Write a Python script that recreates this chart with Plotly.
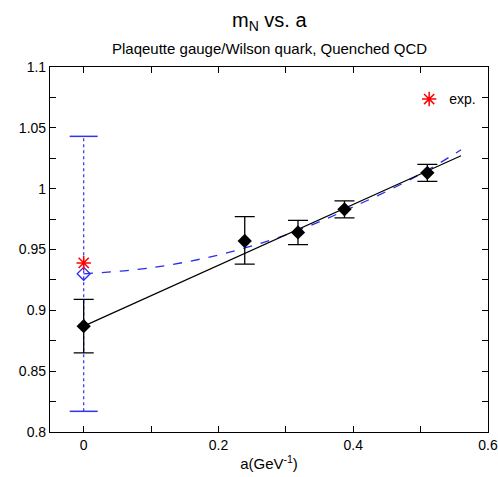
import plotly.graph_objects as go

# lattice data (black, filled diamonds)
a_data = [0.0, 0.239, 0.318, 0.387, 0.510]
mN_data = [0.887, 0.957, 0.964, 0.983, 1.013]
mN_err_hi = [0.909, 0.977, 0.974, 0.990, 1.020]
mN_err_lo = [0.865, 0.938, 0.954, 0.976, 1.006]

# linear fit line (black)
lin_a = [0.0, 0.56]
lin_m = [0.887, 1.027]

# quadratic fit curve (blue dashed)
quad_a = [0.0, 0.1, 0.2, 0.3, 0.4, 0.5, 0.56]
quad_m = [0.930, 0.935, 0.9455, 0.962, 0.985, 1.012, 1.032]

# quadratic extrapolation at a=0 (blue open diamond)
q0_a = [0.0]
q0_m = [0.930]
q0_hi = 1.043
q0_lo = 0.817

# experiment
exp_a = [0.0]
exp_m = [0.939]

font = "Liberation Sans, Arial, sans-serif"
fig = go.Figure()

# blue dotted error bar
fig.add_trace(go.Scatter(x=[q0_a[0], q0_a[0]], y=[q0_lo, q0_hi], mode="lines",
                         line=dict(color="#3333ee", width=1.2, dash="dot"),
                         showlegend=False, hoverinfo="skip"))
fig.add_trace(go.Scatter(x=[q0_a[0], q0_a[0]], y=[q0_lo, q0_hi], mode="markers",
                         marker=dict(symbol="line-ew", size=20, color="#3333ee",
                                     line=dict(color="#3333ee", width=1.5)),
                         showlegend=False, hoverinfo="skip"))

fig.add_trace(go.Scatter(x=quad_a, y=quad_m, mode="lines", line_shape="spline",
                         line=dict(color="#2b2bee", width=1.3, dash="dash"),
                         showlegend=False))
fig.add_trace(go.Scatter(x=lin_a, y=lin_m, mode="lines",
                         line=dict(color="black", width=1.2), showlegend=False))

fig.add_trace(go.Scatter(x=q0_a, y=q0_m, mode="markers",
                         marker=dict(symbol="diamond-open", size=10,
                                     color="#2b2bee", line=dict(width=1.3, color="#2b2bee")),
                         showlegend=False))

fig.add_trace(go.Scatter(
    x=a_data, y=mN_data, mode="markers",
    marker=dict(symbol="diamond", size=11, color="black"),
    error_y=dict(type="data", symmetric=False,
                 array=[h - m for h, m in zip(mN_err_hi, mN_data)],
                 arrayminus=[m - l for m, l in zip(mN_data, mN_err_lo)],
                 color="black", thickness=1.3, width=10),
    showlegend=False))

fig.add_trace(go.Scatter(x=exp_a, y=exp_m, mode="markers", name="exp.",
                         marker=dict(symbol="asterisk-open", size=12, color="red",
                                     line=dict(color="red", width=1.5))))

axis_common = dict(showline=True, linecolor="black", linewidth=1.2, mirror="allticks",
                   ticks="inside", ticklen=6, tickcolor="black", showgrid=False,
                   zeroline=False, automargin=False,
                   tickfont=dict(size=14, color="black", family=font))

fig.update_xaxes(range=[-0.05, 0.6], tick0=0, dtick=0.2,
                 minor=dict(ticks="inside", dtick=0.1, tick0=0, ticklen=6, tickcolor="black"),
                 title=dict(text="a(GeV<sup>-1</sup>)", font=dict(size=15, color="black", family=font),
                            standoff=6),
                 **axis_common)
fig.update_yaxes(range=[0.8, 1.1], tick0=0.8, dtick=0.05,
                 minor=dict(ticks="inside", dtick=0.025, tick0=0.8, ticklen=6, tickcolor="black"),
                 **axis_common)

plot_h = 477 - 67 - 45
fig.update_layout(
    width=498, height=477,
    margin=dict(l=50, r=10, t=67, b=45),
    plot_bgcolor="white", paper_bgcolor="white",
    font=dict(family=font, color="black"),
    showlegend=True,
    legend=dict(x=0.82, y=0.955, xanchor="left", yanchor="top",
                bgcolor="rgba(0,0,0,0)", font=dict(size=14, family=font),
                itemwidth=30, tracegroupgap=0),
    annotations=[
        dict(text="m<sub>N</sub> vs. a", x=0.5, y=1 + (67 - 21) / plot_h, yanchor="middle",
             xref="paper", yref="paper", showarrow=False, font=dict(size=20, family=font)),
        dict(text="Plaqeutte gauge/Wilson quark, Quenched QCD", x=0.5,
             y=1 + (67 - 48) / plot_h, yanchor="middle",
             xref="paper", yref="paper", showarrow=False, font=dict(size=15, family=font)),
    ],
)

fig.write_html("out.html")
